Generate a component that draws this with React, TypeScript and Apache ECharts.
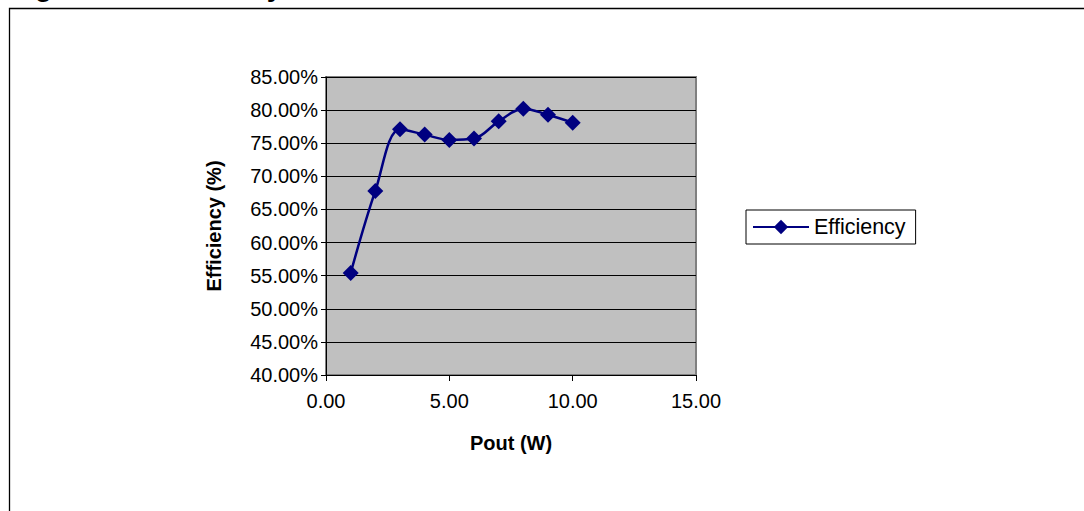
import React, { useEffect, useRef } from "react";
import * as echarts from "echarts";

const poutW = [1, 2, 3, 4, 5, 6, 7, 8, 9, 10];
const efficiencyPct = [55.4, 67.8, 77.1, 76.3, 75.5, 75.7, 78.3, 80.2, 79.3, 78.1];
const seriesName = "Efficiency";
const xAxisTitle = "Pout (W)";
const yAxisTitle = "Efficiency (%)";
const figureTitle = "Figure 5 – Efficiency vs. Pout";

const FONT = "'Liberation Sans', Arial, sans-serif";

export default function App() {
  const ref = useRef<HTMLDivElement>(null);

  useEffect(() => {
    if (!ref.current) return;
    const chart = echarts.init(ref.current, null, { renderer: "svg" });
    const data = poutW.map((x, i) => [x, efficiencyPct[i]]);
    chart.setOption({
      animation: false,
      backgroundColor: "#ffffff",
      textStyle: { fontFamily: FONT },
      graphic: [
        {
          type: "rect",
          shape: { x: 9.5, y: 8.5, width: 1200, height: 700 },
          style: { fill: "none", stroke: "#000", lineWidth: 1.3 },
          silent: true,
        },
        {
          type: "text",
          x: 10,
          y: -14,
          style: {
            text: figureTitle,
            font: `bold 28px ${FONT}`,
            fill: "#000",
            verticalAlign: "middle",
            align: "left",
          },
          silent: true,
        },
      ],
      grid: {
        left: 326,
        top: 77,
        right: 388,
        bottom: 136,
        show: true,
        backgroundColor: "#C0C0C0",
        borderColor: "#808080",
        borderWidth: 2,
      },
      legend: {
        left: 746,
        top: 210,
        orient: "vertical",
        data: [seriesName],
        borderColor: "#000",
        borderWidth: 1,
        padding: [6, 10, 6, 6],
        itemWidth: 56,
        itemHeight: 18,
        itemGap: 5,
        textStyle: { fontFamily: FONT, fontSize: 21.5, color: "#000" },
      },
      xAxis: {
        type: "value",
        min: 0,
        max: 15,
        interval: 5,
        name: xAxisTitle,
        nameLocation: "middle",
        nameGap: 58,
        nameTextStyle: { fontFamily: FONT, fontSize: 20, fontWeight: "bold", color: "#000" },
        axisLine: { show: true, lineStyle: { color: "#000", width: 1 } },
        axisTick: { show: true, inside: false, length: 6, lineStyle: { color: "#000" } },
        axisLabel: {
          margin: 16,
          fontFamily: FONT,
          fontSize: 20,
          color: "#000",
          formatter: (v: number) => v.toFixed(2),
        },
        splitLine: { show: false },
      },
      yAxis: {
        type: "value",
        min: 40,
        max: 85,
        interval: 5,
        name: yAxisTitle,
        nameLocation: "middle",
        nameGap: 102,
        nameRotate: 90,
        nameTextStyle: { fontFamily: FONT, fontSize: 20, fontWeight: "bold", color: "#000" },
        axisLine: { show: true, lineStyle: { color: "#000", width: 1 } },
        axisTick: { show: true, inside: false, length: 5, lineStyle: { color: "#000" } },
        axisLabel: {
          margin: 8,
          fontFamily: FONT,
          fontSize: 20,
          color: "#000",
          formatter: (v: number) => v.toFixed(2) + "%",
        },
        splitLine: { show: true, lineStyle: { color: "#000", width: 1 } },
      },
      series: [
        {
          name: seriesName,
          type: "line",
          data,
          smooth: 0.35,
          symbol: "diamond",
          symbolSize: 16,
          itemStyle: { color: "#000080" },
          lineStyle: { color: "#000080", width: 2.5 },
        },
      ],
    });
    return () => chart.dispose();
  }, []);

  return (
    <div
      ref={ref}
      style={{ position: "absolute", left: 0, top: 0, width: 1084, height: 511 }}
    />
  );
}
